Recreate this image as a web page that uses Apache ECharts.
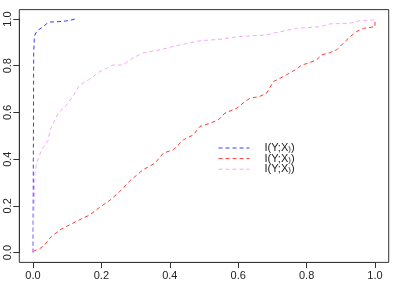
<!DOCTYPE html>
<html>
<head>
<meta charset="utf-8">
<script src="https://cdn.jsdelivr.net/npm/echarts@6/dist/echarts.min.js"></script>
<style>
  html, body { margin: 0; padding: 0; background: #fff; }
  #chart { width: 399px; height: 281px; }
</style>
</head>
<body>
<div id="chart"></div>
<script>
var seriesNames = ['I(Y;X1)', 'I(Y;X2)', 'I(Y;X3)'];
var seriesColors = ['#3a3aff', '#ff3a3a', '#f2acf2'];

// I(Y;X1)
var x1 = [0, 0.001, 0.002, 0.004, 0.008, 0.016, 0.03, 0.04, 0.05, 0.07, 0.094, 0.11, 0.123];
var y1 = [0, 0.4, 0.85, 0.925, 0.94, 0.953, 0.968, 0.98, 0.987, 0.988, 0.991, 0.995, 1.0];

// I(Y;X2)
var x2 = [0, 0.02, 0.035, 0.05, 0.079, 0.098, 0.137, 0.167, 0.196, 0.225,
          0.254, 0.284, 0.322, 0.357, 0.381, 0.41, 0.44, 0.469, 0.488, 0.518,
          0.542, 0.561, 0.596, 0.62, 0.635, 0.662, 0.683, 0.703, 0.722, 0.741,
          0.766, 0.786, 0.805, 0.829, 0.844, 0.868, 0.888, 0.907, 0.927, 0.946,
          0.966, 1.0, 1.0];
var y2 = [0.005, 0.017, 0.034, 0.063, 0.098, 0.112, 0.141, 0.162, 0.195, 0.224,
          0.262, 0.308, 0.355, 0.383, 0.426, 0.44, 0.483, 0.504, 0.54, 0.554,
          0.568, 0.597, 0.618, 0.647, 0.661, 0.668, 0.682, 0.732, 0.746, 0.761,
          0.782, 0.803, 0.811, 0.825, 0.846, 0.856, 0.868, 0.896, 0.924, 0.946,
          0.96, 0.967, 1.0];

// I(Y;X3)
var x3 = [0, 0.002, 0.004, 0.006, 0.011, 0.025, 0.044, 0.05, 0.06, 0.074,
          0.094, 0.113, 0.137, 0.162, 0.196, 0.234, 0.263, 0.292, 0.322, 0.371,
          0.43, 0.488, 0.547, 0.596, 0.683, 0.702, 0.771, 0.839, 0.868, 0.927,
          0.956, 1.0, 1.0];
var y3 = [0, 0.15, 0.24, 0.34, 0.385, 0.44, 0.48, 0.525, 0.556, 0.598,
          0.624, 0.662, 0.718, 0.739, 0.775, 0.803, 0.803, 0.833, 0.855, 0.868,
          0.889, 0.907, 0.913, 0.924, 0.932, 0.939, 0.96, 0.967, 0.979, 0.982,
          0.993, 0.996, 1.0];

function pairs(xs, ys) {
    return xs.map(function (x, i) { return [x, ys[i]]; });
}

var chart = echarts.init(document.getElementById('chart'));
var allData = [pairs(x1, y1), pairs(x2, y2), pairs(x3, y3)];

var labelStyle = {
    color: '#222',
    fontFamily: 'Liberation Sans',
    fontSize: 11,
    formatter: function (v) { return v.toFixed(1); }
};

// grid 0 holds the data (0..1), grid 1 is just the R-style box around it
var option = {
    animation: false,
    grid: [
        { left: 33, right: 24, top: 19, bottom: 28 },
        { left: 19.3, right: 10.3, top: 9.6, bottom: 18.6, show: true, borderColor: '#333', borderWidth: 1 }
    ],
    legend: {
        orient: 'vertical',
        left: 213,
        top: 137,
        itemWidth: 31,
        itemHeight: 10,
        itemGap: -0.9,
        data: seriesNames,
        itemStyle: { opacity: 0 },
        lineStyle: { width: 1 },
        formatter: function (name) {
            var n = name.slice(-1);
            return '{n|I(Y;X}{s|' + n + '}{n|)}';
        },
        textStyle: {
            padding: [0, 0, 0, 10],
            rich: {
                n: { fontFamily: 'Liberation Sans', fontSize: 11, color: '#222', lineHeight: 10 },
                s: { fontFamily: 'Liberation Sans', fontSize: 8, color: '#222', lineHeight: 7, verticalAlign: 'bottom', padding: [3, 0, 0, 0] }
            }
        }
    },
    xAxis: [
        {
            type: 'value', gridIndex: 0, min: 0, max: 1, interval: 0.2,
            offset: 9.4,
            axisLine: { show: true, onZero: false, lineStyle: { color: '#333', width: 1 } },
            splitLine: { show: false },
            axisTick: { show: true, length: 6, lineStyle: { color: '#333', width: 1 } },
            axisLabel: Object.assign({}, labelStyle, { margin: 8 })
        },
        { type: 'value', gridIndex: 1, show: false, min: 0, max: 1 }
    ],
    yAxis: [
        {
            type: 'value', gridIndex: 0, min: 0, max: 1, interval: 0.2,
            offset: 13.7,
            axisLine: { show: true, onZero: false, lineStyle: { color: '#333', width: 1 } },
            splitLine: { show: false },
            axisTick: { show: true, length: 6, lineStyle: { color: '#333', width: 1 } },
            axisLabel: Object.assign({}, labelStyle, { rotate: 90, margin: 6 })
        },
        { type: 'value', gridIndex: 1, show: false, min: 0, max: 1 }
    ],
    series: seriesNames.map(function (name, i) {
        return {
            name: name,
            type: 'line',
            xAxisIndex: 0,
            yAxisIndex: 0,
            symbol: 'none',
            clip: false,
            data: allData[i],
            lineStyle: { color: seriesColors[i], width: 1, type: [4, 3] },
            itemStyle: { color: seriesColors[i] }
        };
    })
};

chart.setOption(option);
</script>
</body>
</html>
